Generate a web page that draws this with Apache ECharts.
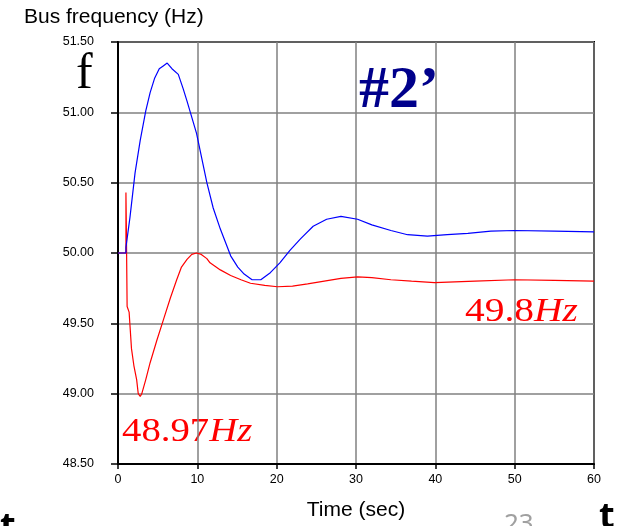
<!DOCTYPE html>
<html>
<head>
<meta charset="utf-8">
<title>Bus frequency</title>
<script src="https://cdn.jsdelivr.net/npm/echarts@6/dist/echarts.min.js"></script>
<style>
  html, body { margin: 0; padding: 0; background: #fff; }
  #chart { width: 617px; height: 526px; }
</style>
</head>
<body>
<div id="chart"></div>
<script>
// time (sec) / frequency (Hz)
var blueTime = [0, 1.0, 1.0, 1.5, 2.15, 2.8, 3.5, 4.05, 4.6, 5.2, 5.7, 6.2, 6.8, 7.6, 8.2, 8.7, 9.9, 11.2, 12.0, 12.9, 14.2, 15.1, 15.9, 16.9, 18.0, 19.2, 20.4, 21.7, 23.0, 24.6, 26.3, 28.1, 30.2, 32.0, 34.4, 36.5, 39.0, 41.5, 44.1, 47, 50, 55, 60]
var blueFreq = [50.0, 50.0, 50.04, 50.25, 50.57, 50.8, 51.01, 51.14, 51.24, 51.31, 51.33, 51.35, 51.31, 51.27, 51.17, 51.08, 50.85, 50.5, 50.32, 50.17, 49.98, 49.9, 49.85, 49.81, 49.81, 49.86, 49.93, 50.02, 50.1, 50.19, 50.24, 50.26, 50.24, 50.2, 50.16, 50.13, 50.12, 50.13, 50.14, 50.155, 50.16, 50.155, 50.15]

var redTime = [0, 1.0, 1.0, 1.05, 1.15, 1.3, 1.4, 1.7, 2.0, 2.35, 2.55, 2.8, 3.0, 3.5, 4.05, 4.9, 5.75, 6.6, 7.4, 8.0, 8.7, 9.3, 9.9, 10.5, 11.2, 11.6, 12.9, 14.2, 15.5, 16.7, 18.5, 20.1, 22, 23.9, 26, 28.1, 30.2, 32, 34.4, 37, 39.9, 45, 50, 55, 60]
var redFreq = [50.0, 50.0, 50.43, 50.2, 49.62, 49.62, 49.58, 49.32, 49.2, 49.1, 49.0, 48.98, 49.0, 49.1, 49.22, 49.38, 49.53, 49.68, 49.81, 49.9, 49.955, 49.99, 50.0, 49.99, 49.96, 49.93, 49.88, 49.84, 49.81, 49.785, 49.77, 49.76, 49.765, 49.78, 49.8, 49.82, 49.83, 49.825, 49.81, 49.8, 49.79, 49.8, 49.81, 49.805, 49.8]

function pairs(xs, ys) {
  return xs.map(function (x, i) { return [x, ys[i]] })
}

// red annotation: upright digits, italic unit
function redLabel(num) {
  return {
    text: '{n|' + num + '}{i|Hz}',
    rich: {
      n: { fontFamily: 'Liberation Serif, serif', fontSize: 34, fill: '#ff0000' },
      i: { fontFamily: 'Liberation Serif, serif', fontStyle: 'italic', fontSize: 34, fill: '#ff0000' }
    }
  }
}

var chart = echarts.init(document.getElementById('chart'))

chart.setOption({
  animation: false,
  grid: {
    left: 118,
    right: 23,
    top: 42,
    bottom: 61,
    show: true,
    borderColor: '#000',
    borderWidth: 2
  },
  xAxis: {
    type: 'value',
    min: 0,
    max: 60,
    interval: 10,
    name: 'Time (sec)',
    nameLocation: 'middle',
    nameGap: 36,
    nameTextStyle: { fontFamily: 'Liberation Sans, Arial', fontSize: 21, color: '#000' },
    axisLine: { lineStyle: { color: '#000', width: 2 } },
    axisTick: { length: 5, lineStyle: { color: '#000', width: 1.5 } },
    axisLabel: { fontFamily: 'Liberation Sans, Arial', fontSize: 12.5, color: '#000', margin: 9 },
    splitLine: { lineStyle: { color: '#808080', width: 1.5 } }
  },
  yAxis: {
    type: 'value',
    min: 48.5,
    max: 51.5,
    interval: 0.5,
    axisLine: { show: true, lineStyle: { color: '#000', width: 2 } },
    axisTick: { show: true, length: 7, lineStyle: { color: '#000', width: 1.5 } },
    axisLabel: {
      fontFamily: 'Liberation Sans, Arial',
      fontSize: 12.5,
      color: '#000',
      margin: 24,
      formatter: function (v) { return v.toFixed(2) }
    },
    splitLine: { lineStyle: { color: '#808080', width: 1.5 } }
  },
  series: [
    {
      name: 'blue',
      type: 'line',
      showSymbol: false,
      data: pairs(blueTime, blueFreq),
      lineStyle: { color: '#0000ff', width: 1.2 },
      z: 3
    },
    {
      name: 'red',
      type: 'line',
      showSymbol: false,
      data: pairs(redTime, redFreq),
      lineStyle: { color: '#ff0000', width: 1.2 },
      z: 2
    }
  ],
  graphic: [
    {
      type: 'text', left: 24, top: 7,
      style: { text: 'Bus frequency (Hz)', fontFamily: 'Liberation Sans, Arial', fontSize: 21, fill: '#000' }
    },
    {
      type: 'text', left: 76, top: 50,
      style: { text: 'f', fontFamily: 'Liberation Serif, serif', fontSize: 50, fill: '#000' }
    },
    {
      type: 'text', left: 359, top: 61,
      style: { text: '#2\u2019', fontFamily: 'Liberation Serif, serif', fontWeight: 'bold', fontSize: 60, fill: '#00008b' }
    },
    { type: 'text', left: 465, top: 295, scaleX: 1.16, style: redLabel('49.8') },
    { type: 'text', left: 122, top: 415, scaleX: 1.14, style: redLabel('48.97') },
    {
      type: 'text', left: 504, top: 512,
      style: { text: '23', fontFamily: 'Noto Sans, sans-serif', fontSize: 26, fill: '#a0a0a0' }
    },
    {
      type: 'text', left: 0, top: 510,
      style: { text: 't', fontFamily: 'Noto Sans, sans-serif', fontWeight: 'bold', fontSize: 36, fill: '#000' }
    },
    {
      type: 'text', left: 599, top: 500,
      style: { text: 't', fontFamily: 'Noto Sans, sans-serif', fontWeight: 'bold', fontSize: 36, fill: '#000' }
    }
  ]
})
</script>
</body>
</html>
